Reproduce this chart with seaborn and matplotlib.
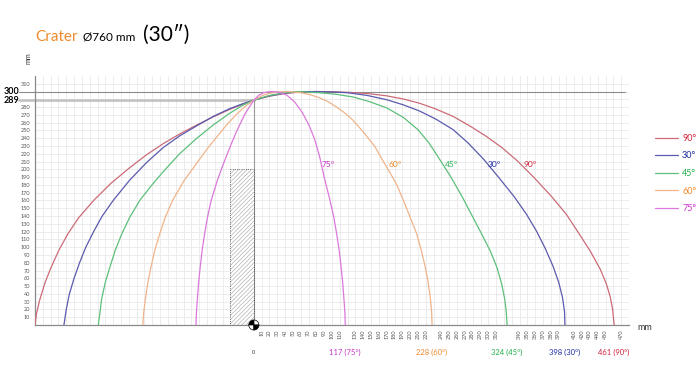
import numpy as np
import pandas as pd
import matplotlib.pyplot as plt
import seaborn as sns
from matplotlib.patches import Rectangle, Wedge

# trajectory points (mm)
x_90 = [-280, -278, -274, -267, -259, -249, -238, -224, -205, -183, -159, -137, -116, -94, -73, -52, -31, -15, 0,
        20, 40, 60, 80, 100, 120, 145, 170, 191, 212, 233, 255, 276, 298, 318, 337, 358, 381, 400, 417, 431, 443,
        451, 456, 459, 461]
y_90 = [0, 15, 32, 55, 75, 97, 117, 138, 160, 182, 202, 219, 233, 246, 257, 267.5, 277, 283.5, 289,
        294, 297.5, 299.5, 300, 299.8, 299, 297.5, 294.5, 290.5, 285, 277.5, 268, 256, 242, 227.5, 211, 190, 165,
        142, 116, 94, 72, 53, 36, 20, 0]

x_30 = [-243, -240, -236, -230, -223, -215, -205, -194, -180, -159, -137, -116, -95, -73, -52, -31, -15, 0,
        20, 40, 60, 80, 100, 120, 145, 170, 191, 212, 233, 255, 274, 294, 313, 333, 349, 362, 373, 383, 390, 395,
        397.5, 398]
y_30 = [0, 20, 40, 60, 80, 100, 120, 140, 160, 186, 209, 228, 243, 256, 268, 278, 284, 289,
        294.5, 298, 299.8, 300, 299.5, 298.5, 295, 289.5, 283, 275, 264.5, 251, 234, 213, 190, 165, 142, 120, 98,
        75, 55, 35, 17, 0]

x_45 = [-199, -197, -195, -190, -184, -177, -169, -159, -146, -132, -116, -95, -73, -52, -31, -15, 0,
        20, 40, 55, 84, 105, 127, 148, 170, 191, 210, 224, 237, 251, 267, 281, 293, 303, 311, 317, 321, 323, 324]
y_45 = [0, 15, 32, 55, 75, 97, 117, 138, 160, 178, 197, 220, 240, 257, 272, 282, 289,
        295, 298.5, 300, 298.5, 296.5, 293, 287, 279, 267, 251, 234, 214, 192, 164, 137, 114, 94, 74, 53, 33, 16, 0]

x_60 = [-142, -141, -139, -135.5, -131.5, -126.5, -120.5, -113.5, -104, -89, -73, -60, -48, -35, -22, -11, 0,
        10, 20, 32, 45, 60, 72, 84, 95, 106, 117, 127, 141, 155, 164, 174, 183, 191, 199, 208, 214, 219, 223, 226,
        227.5, 228]
y_60 = [0, 15, 32, 55, 75, 97, 117, 138, 160, 186, 208, 226, 241, 257, 271, 281, 289,
        294.5, 297.8, 299.6, 300, 298.5, 296, 292, 287, 280, 272, 263, 247, 229, 213, 196, 180, 161, 141, 118, 97,
        76, 55, 33, 16, 0]

x_75 = [-74, -73.5, -72.4, -70.6, -68.6, -66, -63, -59.4, -54.6, -47, -39, -30, -22, -11, 0, 6, 12, 19, 26,
        34, 42, 52, 62, 70.5, 78, 84, 90, 97, 102.4, 106, 109, 111.6, 113.6, 115.4, 116.5, 117]
y_75 = [0, 15, 32, 55, 75, 97, 117, 138, 160, 185, 207, 230, 249, 272, 289, 295, 298.3, 299.8, 300,
        298.8, 295.5, 287, 273, 257, 238, 217, 190, 162, 138, 117, 97, 75, 55, 32, 15, 0]

angles = ['90°', '30°', '45°', '60°', '75°']
landing = [461, 398, 324, 228, 117]
label_x = [345, 299, 244, 172, 87]
line_colors = {'90°': '#cc6b78', '30°': '#5a5aae', '45°': '#5cbf7a', '60°': '#f0b48a', '75°': '#dc78dc'}
text_colors = {'90°': '#d0223c', '30°': '#1e2ca0', '45°': '#22b04a', '60°': '#ee8a2a', '75°': '#c832c8'}

xs = [x_90, x_30, x_45, x_60, x_75]
ys = [y_90, y_30, y_45, y_60, y_75]
df = pd.concat([pd.DataFrame({'x': a, 'y': b, 'angle': n}) for a, b, n in zip(xs, ys, angles)],
               ignore_index=True)

sns.set_style('white')
plt.rcParams['font.family'] = ['Lato', 'DejaVu Sans']
plt.rcParams['hatch.linewidth'] = 0.4

fig = plt.figure(figsize=(7, 3.79), dpi=100)
ax = fig.add_axes([0.05, 0.1425, 0.8486, 0.657])

sns.lineplot(data=df, x='x', y='y', hue='angle', hue_order=angles, palette=line_colors,
             sort=False, estimator=None, lw=0.9, ax=ax, zorder=3)

ax.set_xlim(-280, 480)
ax.set_ylim(0, 320)

# 10 mm grid
ax.xaxis.remove_overlapping_locs = False
ax.yaxis.remove_overlapping_locs = False
ax.set_xticks(np.arange(-280, 476, 10), minor=True)
ax.set_yticks(np.arange(0, 316, 10), minor=True)
ax.grid(which='minor', color='#e9e9e9', lw=0.6)
ax.grid(which='major', visible=False)
ax.tick_params(which='minor', length=0)

skip_x = [120, 230, 320, 330, 400, 460]
xt = [v for v in range(10, 471, 10) if v not in skip_x]
ax.set_xticks(xt, labels=[str(v) for v in xt], rotation=90)
yt = [v for v in range(10, 311, 10) if v not in (290, 300)]
ax.set_yticks(yt, labels=[str(v) for v in yt])
ax.tick_params(axis='both', which='major', labelsize=4, colors='#555555', length=2, width=0.5, pad=1.5)

for s in ['top', 'right']:
    ax.spines[s].set_visible(False)
for s in ['left', 'bottom']:
    ax.spines[s].set_color('#8a8a8a')
    ax.spines[s].set_linewidth(0.9)
ax.set_xlabel('')
ax.set_ylabel('')

# reference lines
ax.plot([-301, 475], [300, 300], color='#8c8c8c', lw=0.8, clip_on=False, zorder=2)
ax.plot([-301, 0], [289, 289], color='#c4c4c4', lw=2, clip_on=False, zorder=2)
ax.plot([0, 0], [0, 289], color='#9a9a9a', lw=0.8, zorder=2)
for v in (300, 289):
    ax.text(-0.027, v, str(v), transform=ax.get_yaxis_transform(), ha='right', va='center',
            fontsize=6.5, fontweight='bold', color='black')

# rim block
ax.add_patch(Rectangle((-30, 0), 30, 200, facecolor='white', edgecolor='#a0a0a0',
                       hatch='////////', lw=0, zorder=2))
ax.add_patch(Rectangle((-30, 0), 30, 200, fill=False, edgecolor='#444444', lw=0.6, ls=':', zorder=2))

# centre-of-mass marker at origin
for a0, fc in [(0, 'white'), (90, 'black'), (180, 'white'), (270, 'black')]:
    ax.add_patch(Wedge((0, 0), 6.5, a0, a0 + 90, facecolor=fc, edgecolor='black', lw=0.5,
                       clip_on=False, zorder=5))

# landing labels and curve labels
for n, v, lx in zip(angles, landing, label_x):
    ax.text(v, -35, f'{v} ({n})', ha='center', va='center', fontsize=5.5,
            color=text_colors[n], clip_on=False)
    ax.text(lx, 206, n, ha='left', va='center', fontsize=6, color=text_colors[n])
ax.text(0, -35, '0', ha='center', va='center', fontsize=4, color='#333333', clip_on=False)

ax.text(500, -3, 'mm', ha='center', va='center', fontsize=6.5, color='#333333', clip_on=False)
ax.text(-0.012, 1.07, 'mm', transform=ax.transAxes, rotation=90, ha='center', va='center',
        fontsize=5, color='#333333')

# legend
sns.move_legend(ax, 'upper left', bbox_to_anchor=(1.03, 0.80), title=None, frameon=False,
                fontsize=6.5, handlelength=2.6, labelspacing=0.95, handletextpad=0.4)
for t in ax.get_legend().get_texts():
    t.set_color(text_colors[t.get_text()])

# title
fig.text(0.05, 0.892, 'Crater', color='#ee8a2a', fontsize=11, ha='left', va='baseline')
fig.text(0.119, 0.892, 'Ø760 mm', color='black', fontsize=8.5, ha='left', va='baseline')
fig.text(0.204, 0.892, '(30″)', color='black', fontsize=15, ha='left', va='baseline')

fig.savefig('out.png', dpi=100)
